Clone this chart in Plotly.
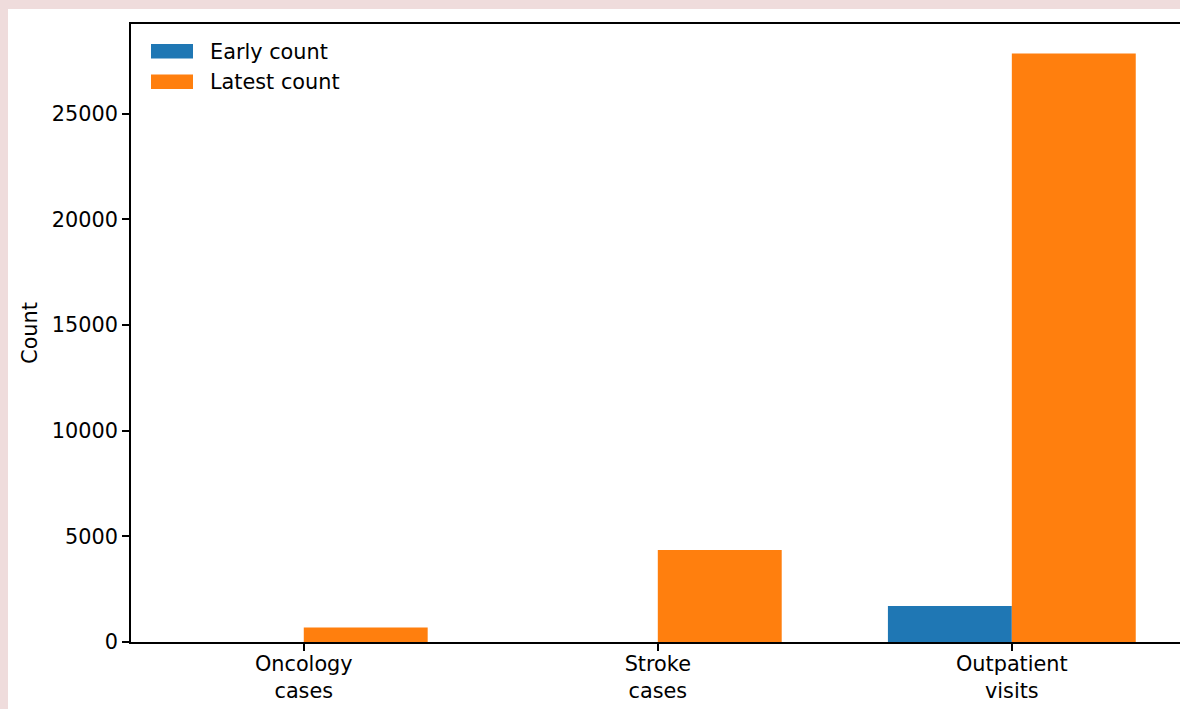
import plotly.graph_objects as go

categories = ["Oncology<br>cases", "Stroke<br>cases", "Outpatient<br>visits"]
series_names = ["Early count", "Latest count"]
early_count = [0, 0, 1700]
latest_count = [690, 4350, 27860]
y_ticks = [0, 5000, 10000, 15000, 20000, 25000]
colors = ["#1f77b4", "#ff7f0e"]

W, H = 1180, 709
L, R, T, B = 131, 0, 24, 67
pw, ph = W - L - R, H - T - B

xs = list(range(len(categories)))
bar_w = 0.35
font = "DejaVu Sans"
fs = 20.8

fig = go.Figure()
fig.add_trace(go.Bar(x=xs, y=early_count, name=series_names[0], width=bar_w, offset=-bar_w,
                     marker=dict(color=colors[0], line=dict(width=0)), showlegend=False))
fig.add_trace(go.Bar(x=xs, y=latest_count, name=series_names[1], width=bar_w, offset=0,
                     marker=dict(color=colors[1], line=dict(width=0)), showlegend=False))

ymax = max(latest_count + early_count) * 1.05

def px_x(p):
    return (p - L) / pw

def px_y(p):
    return (T + ph - p) / ph

# white panel over pink page background
fig.add_shape(type="rect", xref="paper", yref="paper", layer="below",
              x0=px_x(8), x1=px_x(W + 5), y0=px_y(H + 5), y1=px_y(9),
              fillcolor="white", line=dict(width=0))

# legend (matplotlib style: wide patches, no frame)
for i, (name, col) in enumerate(zip(series_names, colors)):
    top = 44 + i * 30.5
    fig.add_shape(type="rect", xref="paper", yref="paper",
                  x0=px_x(151), x1=px_x(193), y0=px_y(top + 14.5), y1=px_y(top),
                  fillcolor=col, line=dict(width=0))
    fig.add_annotation(xref="paper", yref="paper", x=px_x(207.5), y=px_y(top + 7.5),
                       xanchor="left", yanchor="middle", text=name, showarrow=False,
                       font=dict(family=font, size=fs, color="black"))

fig.update_layout(
    width=W, height=H, autosize=False,
    margin=dict(l=L, r=R, t=T, b=B, pad=0),
    paper_bgcolor="#efdcdc", plot_bgcolor="white",
    barmode="overlay",
    font=dict(family=font, size=fs, color="black"),
    showlegend=False,
    xaxis=dict(range=[-0.488, 2.475], tickmode="array", tickvals=xs, ticktext=categories,
               showline=True, linecolor="black", linewidth=1.6, mirror=True,
               ticks="outside", ticklen=7, tickwidth=1.6, tickcolor="black",
               showgrid=False, zeroline=False, tickfont=dict(size=fs),
               ticklabelstandoff=-5),
    yaxis=dict(range=[0, ymax], tickmode="array", tickvals=y_ticks,
               ticktext=[str(v) for v in y_ticks],
               showline=True, linecolor="black", linewidth=1.6, mirror=False,
               ticks="outside", ticklen=7, tickwidth=1.6, tickcolor="black",
               showgrid=False, zeroline=False, tickfont=dict(size=fs),
               title=dict(text="Count", font=dict(size=fs), standoff=9)),
)

fig.write_html("out.html")
